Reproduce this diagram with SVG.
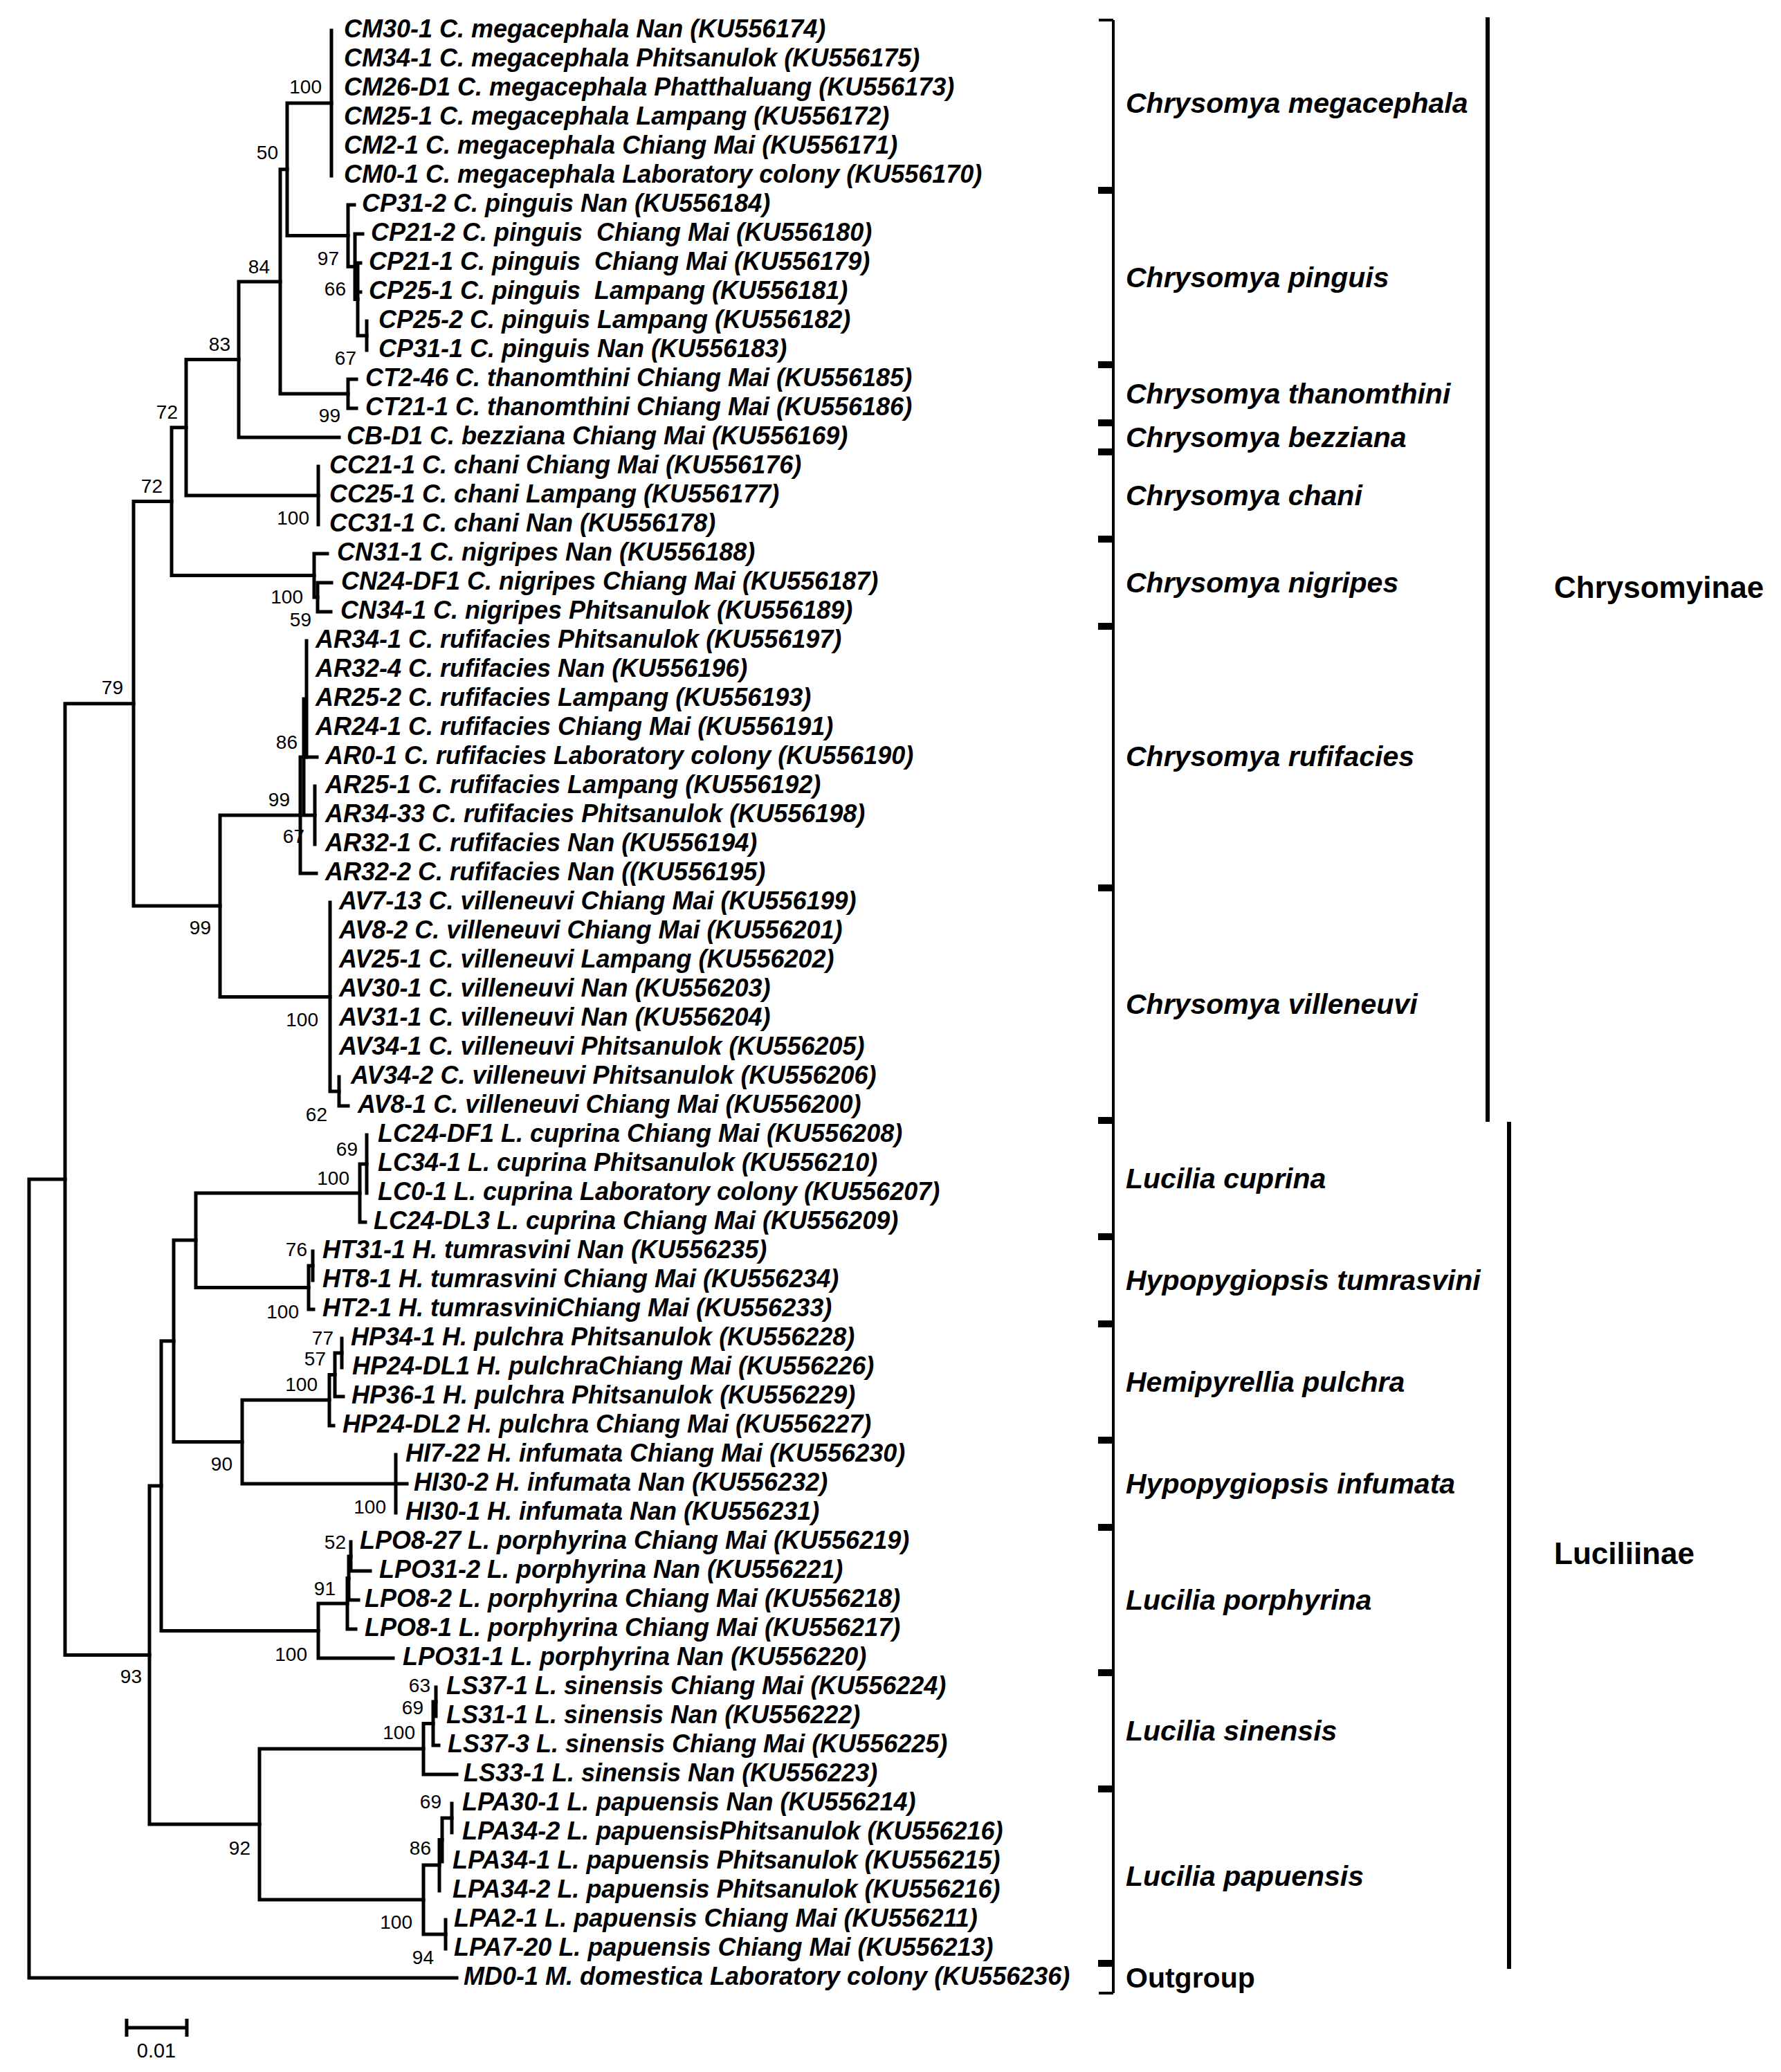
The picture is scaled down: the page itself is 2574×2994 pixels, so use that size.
<svg xmlns="http://www.w3.org/2000/svg" width="2574" height="2994" viewBox="0 0 2574 2994">
<style>
.br{fill:none;stroke:#000;stroke-width:5;stroke-linecap:square}
.lf{font-family:"Liberation Sans",Arial,sans-serif;font-size:36px;font-weight:bold;font-style:italic;fill:#000;white-space:pre}
.bs{font-family:"Liberation Sans",Arial,sans-serif;font-size:28px;fill:#000;text-anchor:end}
.sp{font-family:"Liberation Sans",Arial,sans-serif;font-size:41px;font-weight:bold;font-style:italic;fill:#000}
.sf{font-family:"Liberation Sans",Arial,sans-serif;font-size:44px;font-weight:bold;fill:#000}
.og{font-family:"Liberation Sans",Arial,sans-serif;font-size:41px;font-weight:bold;fill:#000}
.sc{font-family:"Liberation Sans",Arial,sans-serif;font-size:29px;fill:#000;text-anchor:middle}
.bk{fill:none;stroke:#000;stroke-width:4}
.tk{fill:#000}
</style>
<rect width="2574" height="2994" fill="#fff"/>
<g id="connectors" class="br">
<path d="M42 1704V2858M42 1704H94M42 2858H660"/>
<path d="M94 1016.8V2391.5M94 1016.8H193M94 2391.5H216"/>
<path d="M193 724.6V1309M193 724.6H248M193 1309H318"/>
<path d="M248 617.7V831.5M248 617.7H269M248 831.5H454"/>
<path d="M269 519.5V716M269 519.5H345M269 716H460"/>
<path d="M345 406.9V632M345 406.9H405M345 632H490"/>
<path d="M405 244.8V569M405 244.8H415M405 569H503"/>
<path d="M415 149V340.6M415 149H479M415 340.6H503"/>
<path d="M479 44V254"/>
<path d="M503 296V385.25M503 296H512M503 385.25H513"/>
<path d="M513 338V432.5M513 338H524M513 432.5H517"/>
<path d="M517 380V485M517 380H521M517 422H521M517 485H530"/>
<path d="M530 464V506"/>
<path d="M503 548V590M503 548H515M503 590H515"/>
<path d="M460 674V758"/>
<path d="M454 800V863M454 800H473M454 863H459"/>
<path d="M459 842V884M459 842H479M459 884H478"/>
<path d="M318 1178V1440.5M318 1178H434M318 1440.5H477"/>
<path d="M434 1094V1262M434 1094H458M434 1262H457"/>
<path d="M439 1010V1178M439 1178H455"/>
<path d="M443 926V1094"/>
<path d="M455 1136V1220"/>
<path d="M477 1304V1577M477 1577H490"/>
<path d="M490 1556V1598M490 1598H503"/>
<path d="M216 2147V2636M216 2147H233M216 2636H375"/>
<path d="M233 1937.8V2356.6M233 1937.8H251M233 2356.6H460"/>
<path d="M251 1792V2083.5M251 1792H283M251 2083.5H350"/>
<path d="M283 1724V1860.5M283 1724H520M283 1860.5H446"/>
<path d="M520 1682V1766M520 1682H530M520 1766H528"/>
<path d="M530 1640V1724"/>
<path d="M446 1829V1892M446 1829H452M446 1892H453"/>
<path d="M452 1808V1850"/>
<path d="M350 2023V2144M350 2023H476M350 2144H572"/>
<path d="M476 1986.5V2060M476 1986.5H484M476 2060H482"/>
<path d="M484 1955V2018M484 1955H494M484 2018H496"/>
<path d="M494 1934V1976"/>
<path d="M572 2102V2186M572 2144H588"/>
<path d="M460 2317V2396M460 2317H502M460 2396H568"/>
<path d="M502 2280.5V2354M502 2280.5H504M502 2354H514"/>
<path d="M504 2249V2312M504 2249H507M504 2312H518"/>
<path d="M507 2228V2270M507 2270H535"/>
<path d="M375 2527V2745M375 2527H612M375 2745H612"/>
<path d="M612 2490.5V2564M612 2490.5H626M612 2564H660"/>
<path d="M626 2459V2522M626 2459H630M626 2522H634"/>
<path d="M630 2438V2480"/>
<path d="M612 2695V2795M612 2695H635M612 2795H644"/>
<path d="M635 2658.5V2732M635 2658.5H639"/>
<path d="M639 2627V2690M639 2627H653"/>
<path d="M653 2606V2648"/>
<path d="M644 2774V2816"/>
</g>
<g id="bootstrap">
<text class="bs" x="465" y="135">100</text>
<text class="bs" x="402" y="230">50</text>
<text class="bs" x="390" y="395">84</text>
<text class="bs" x="490" y="383">97</text>
<text class="bs" x="500" y="427">66</text>
<text class="bs" x="515" y="527">67</text>
<text class="bs" x="333" y="507">83</text>
<text class="bs" x="492" y="610">99</text>
<text class="bs" x="257" y="605">72</text>
<text class="bs" x="447" y="758">100</text>
<text class="bs" x="235" y="712">72</text>
<text class="bs" x="438" y="872">100</text>
<text class="bs" x="450" y="905">59</text>
<text class="bs" x="178" y="1003">79</text>
<text class="bs" x="430" y="1082">86</text>
<text class="bs" x="419" y="1165">99</text>
<text class="bs" x="440" y="1218">67</text>
<text class="bs" x="305" y="1350">99</text>
<text class="bs" x="460" y="1483">100</text>
<text class="bs" x="473" y="1620">62</text>
<text class="bs" x="517" y="1670">69</text>
<text class="bs" x="505" y="1712">100</text>
<text class="bs" x="444" y="1815">76</text>
<text class="bs" x="432" y="1905">100</text>
<text class="bs" x="482" y="1943">77</text>
<text class="bs" x="471" y="1973">57</text>
<text class="bs" x="459" y="2010">100</text>
<text class="bs" x="336" y="2125">90</text>
<text class="bs" x="558" y="2187">100</text>
<text class="bs" x="500" y="2238">52</text>
<text class="bs" x="485" y="2305">91</text>
<text class="bs" x="444" y="2400">100</text>
<text class="bs" x="205" y="2432">93</text>
<text class="bs" x="622" y="2445">63</text>
<text class="bs" x="612" y="2477">69</text>
<text class="bs" x="600" y="2513">100</text>
<text class="bs" x="638" y="2613">69</text>
<text class="bs" x="623" y="2680">86</text>
<text class="bs" x="362" y="2680">92</text>
<text class="bs" x="596" y="2787">100</text>
<text class="bs" x="627" y="2838">94</text>
</g>
<g id="leaves">
<g id="leaf-CM30-1"><text class="lf" x="497" y="54">CM30-1 C. megacephala Nan (KU556174)</text></g>
<g id="leaf-CM34-1"><text class="lf" x="497" y="96">CM34-1 C. megacephala Phitsanulok (KU556175)</text></g>
<g id="leaf-CM26-D1"><text class="lf" x="497" y="138">CM26-D1 C. megacephala Phatthaluang (KU556173)</text></g>
<g id="leaf-CM25-1"><text class="lf" x="497" y="180">CM25-1 C. megacephala Lampang (KU556172)</text></g>
<g id="leaf-CM2-1"><text class="lf" x="497" y="222">CM2-1 C. megacephala Chiang Mai (KU556171)</text></g>
<g id="leaf-CM0-1"><text class="lf" x="497" y="264">CM0-1 C. megacephala Laboratory colony (KU556170)</text></g>
<g id="leaf-CP31-2"><text class="lf" x="523" y="306">CP31-2 C. pinguis Nan (KU556184)</text></g>
<g id="leaf-CP21-2"><text class="lf" x="536" y="348">CP21-2 C. pinguis  Chiang Mai (KU556180)</text></g>
<g id="leaf-CP21-1"><text class="lf" x="533" y="390">CP21-1 C. pinguis  Chiang Mai (KU556179)</text></g>
<g id="leaf-CP25-1"><text class="lf" x="533" y="432">CP25-1 C. pinguis  Lampang (KU556181)</text></g>
<g id="leaf-CP25-2"><text class="lf" x="547" y="474">CP25-2 C. pinguis Lampang (KU556182)</text></g>
<g id="leaf-CP31-1"><text class="lf" x="547" y="516">CP31-1 C. pinguis Nan (KU556183)</text></g>
<g id="leaf-CT2-46"><text class="lf" x="528" y="558">CT2-46 C. thanomthini Chiang Mai (KU556185)</text></g>
<g id="leaf-CT21-1"><text class="lf" x="528" y="600">CT21-1 C. thanomthini Chiang Mai (KU556186)</text></g>
<g id="leaf-CB-D1"><text class="lf" x="501" y="642">CB-D1 C. bezziana Chiang Mai (KU556169)</text></g>
<g id="leaf-CC21-1"><text class="lf" x="476" y="684">CC21-1 C. chani Chiang Mai (KU556176)</text></g>
<g id="leaf-CC25-1"><text class="lf" x="476" y="726">CC25-1 C. chani Lampang (KU556177)</text></g>
<g id="leaf-CC31-1"><text class="lf" x="476" y="768">CC31-1 C. chani Nan (KU556178)</text></g>
<g id="leaf-CN31-1"><text class="lf" x="487" y="810">CN31-1 C. nigripes Nan (KU556188)</text></g>
<g id="leaf-CN24-DF1"><text class="lf" x="493" y="852">CN24-DF1 C. nigripes Chiang Mai (KU556187)</text></g>
<g id="leaf-CN34-1"><text class="lf" x="492" y="894">CN34-1 C. nigripes Phitsanulok (KU556189)</text></g>
<g id="leaf-AR34-1"><text class="lf" x="456" y="936">AR34-1 C. rufifacies Phitsanulok (KU556197)</text></g>
<g id="leaf-AR32-4"><text class="lf" x="456" y="978">AR32-4 C. rufifacies Nan (KU556196)</text></g>
<g id="leaf-AR25-2"><text class="lf" x="456" y="1020">AR25-2 C. rufifacies Lampang (KU556193)</text></g>
<g id="leaf-AR24-1"><text class="lf" x="456" y="1062">AR24-1 C. rufifacies Chiang Mai (KU556191)</text></g>
<g id="leaf-AR0-1"><text class="lf" x="470" y="1104">AR0-1 C. rufifacies Laboratory colony (KU556190)</text></g>
<g id="leaf-AR25-1"><text class="lf" x="470" y="1146">AR25-1 C. rufifacies Lampang (KU556192)</text></g>
<g id="leaf-AR34-33"><text class="lf" x="470" y="1188">AR34-33 C. rufifacies Phitsanulok (KU556198)</text></g>
<g id="leaf-AR32-1"><text class="lf" x="470" y="1230">AR32-1 C. rufifacies Nan (KU556194)</text></g>
<g id="leaf-AR32-2"><text class="lf" x="470" y="1272">AR32-2 C. rufifacies Nan ((KU556195)</text></g>
<g id="leaf-AV7-13"><text class="lf" x="490" y="1314">AV7-13 C. villeneuvi Chiang Mai (KU556199)</text></g>
<g id="leaf-AV8-2"><text class="lf" x="490" y="1356">AV8-2 C. villeneuvi Chiang Mai (KU556201)</text></g>
<g id="leaf-AV25-1"><text class="lf" x="490" y="1398">AV25-1 C. villeneuvi Lampang (KU556202)</text></g>
<g id="leaf-AV30-1"><text class="lf" x="490" y="1440">AV30-1 C. villeneuvi Nan (KU556203)</text></g>
<g id="leaf-AV31-1"><text class="lf" x="490" y="1482">AV31-1 C. villeneuvi Nan (KU556204)</text></g>
<g id="leaf-AV34-1"><text class="lf" x="490" y="1524">AV34-1 C. villeneuvi Phitsanulok (KU556205)</text></g>
<g id="leaf-AV34-2"><text class="lf" x="507" y="1566">AV34-2 C. villeneuvi Phitsanulok (KU556206)</text></g>
<g id="leaf-AV8-1"><text class="lf" x="517" y="1608">AV8-1 C. villeneuvi Chiang Mai (KU556200)</text></g>
<g id="leaf-LC24-DF1"><text class="lf" x="546" y="1650">LC24-DF1 L. cuprina Chiang Mai (KU556208)</text></g>
<g id="leaf-LC34-1"><text class="lf" x="546" y="1692">LC34-1 L. cuprina Phitsanulok (KU556210)</text></g>
<g id="leaf-LC0-1"><text class="lf" x="546" y="1734">LC0-1 L. cuprina Laboratory colony (KU556207)</text></g>
<g id="leaf-LC24-DL3"><text class="lf" x="540" y="1776">LC24-DL3 L. cuprina Chiang Mai (KU556209)</text></g>
<g id="leaf-HT31-1"><text class="lf" x="466" y="1818">HT31-1 H. tumrasvini Nan (KU556235)</text></g>
<g id="leaf-HT8-1"><text class="lf" x="466" y="1860">HT8-1 H. tumrasvini Chiang Mai (KU556234)</text></g>
<g id="leaf-HT2-1"><text class="lf" x="466" y="1902">HT2-1 H. tumrasviniChiang Mai (KU556233)</text></g>
<g id="leaf-HP34-1"><text class="lf" x="507" y="1944">HP34-1 H. pulchra Phitsanulok (KU556228)</text></g>
<g id="leaf-HP24-DL1"><text class="lf" x="509" y="1986">HP24-DL1 H. pulchraChiang Mai (KU556226)</text></g>
<g id="leaf-HP36-1"><text class="lf" x="508" y="2028">HP36-1 H. pulchra Phitsanulok (KU556229)</text></g>
<g id="leaf-HP24-DL2"><text class="lf" x="495" y="2070">HP24-DL2 H. pulchra Chiang Mai (KU556227)</text></g>
<g id="leaf-HI7-22"><text class="lf" x="586" y="2112">HI7-22 H. infumata Chiang Mai (KU556230)</text></g>
<g id="leaf-HI30-2"><text class="lf" x="598" y="2154">HI30-2 H. infumata Nan (KU556232)</text></g>
<g id="leaf-HI30-1"><text class="lf" x="586" y="2196">HI30-1 H. infumata Nan (KU556231)</text></g>
<g id="leaf-LPO8-27"><text class="lf" x="520" y="2238">LPO8-27 L. porphyrina Chiang Mai (KU556219)</text></g>
<g id="leaf-LPO31-2"><text class="lf" x="548" y="2280">LPO31-2 L. porphyrina Nan (KU556221)</text></g>
<g id="leaf-LPO8-2"><text class="lf" x="527" y="2322">LPO8-2 L. porphyrina Chiang Mai (KU556218)</text></g>
<g id="leaf-LPO8-1"><text class="lf" x="527" y="2364">LPO8-1 L. porphyrina Chiang Mai (KU556217)</text></g>
<g id="leaf-LPO31-1"><text class="lf" x="582" y="2406">LPO31-1 L. porphyrina Nan (KU556220)</text></g>
<g id="leaf-LS37-1"><text class="lf" x="645" y="2448">LS37-1 L. sinensis Chiang Mai (KU556224)</text></g>
<g id="leaf-LS31-1"><text class="lf" x="645" y="2490">LS31-1 L. sinensis Nan (KU556222)</text></g>
<g id="leaf-LS37-3"><text class="lf" x="647" y="2532">LS37-3 L. sinensis Chiang Mai (KU556225)</text></g>
<g id="leaf-LS33-1"><text class="lf" x="670" y="2574">LS33-1 L. sinensis Nan (KU556223)</text></g>
<g id="leaf-LPA30-1"><text class="lf" x="668" y="2616">LPA30-1 L. papuensis Nan (KU556214)</text></g>
<g id="leaf-LPA34-2a"><text class="lf" x="668" y="2658">LPA34-2 L. papuensisPhitsanulok (KU556216)</text></g>
<g id="leaf-LPA34-1"><text class="lf" x="654" y="2700">LPA34-1 L. papuensis Phitsanulok (KU556215)</text></g>
<g id="leaf-LPA34-2b"><text class="lf" x="654" y="2742">LPA34-2 L. papuensis Phitsanulok (KU556216)</text></g>
<g id="leaf-LPA2-1"><text class="lf" x="656" y="2784">LPA2-1 L. papuensis Chiang Mai (KU556211)</text></g>
<g id="leaf-LPA7-20"><text class="lf" x="656" y="2826">LPA7-20 L. papuensis Chiang Mai (KU556213)</text></g>
<g id="leaf-MD0-1"><text class="lf" x="670" y="2868">MD0-1 M. domestica Laboratory colony (KU556236)</text></g>
</g>
<g id="brackets">
<path class="bk" d="M1609 29V2880"/>
<path class="bk" d="M1588 29H1609M1588 2880H1609" stroke-width="5"/>
<g class="tk">
<rect x="1587" y="270" width="24" height="10"/>
<rect x="1587" y="522" width="24" height="10"/>
<rect x="1587" y="606" width="24" height="10"/>
<rect x="1587" y="648" width="24" height="10"/>
<rect x="1587" y="774" width="24" height="10"/>
<rect x="1587" y="900" width="24" height="10"/>
<rect x="1587" y="1278" width="24" height="10"/>
<rect x="1587" y="1614" width="24" height="10"/>
<rect x="1587" y="1782" width="24" height="10"/>
<rect x="1587" y="1908" width="24" height="10"/>
<rect x="1587" y="2076" width="24" height="10"/>
<rect x="1587" y="2202" width="24" height="10"/>
<rect x="1587" y="2412" width="24" height="10"/>
<rect x="1587" y="2580" width="24" height="10"/>
<rect x="1587" y="2832" width="24" height="10"/>
</g>
</g>
<g id="species">
<g id="sp-megacephala"><text class="sp" x="1627" y="163">Chrysomya megacephala</text></g>
<g id="sp-pinguis"><text class="sp" x="1627" y="415">Chrysomya pinguis</text></g>
<g id="sp-thanomthini"><text class="sp" x="1627" y="583">Chrysomya thanomthini</text></g>
<g id="sp-bezziana"><text class="sp" x="1627" y="646">Chrysomya bezziana</text></g>
<g id="sp-chani"><text class="sp" x="1627" y="730">Chrysomya chani</text></g>
<g id="sp-nigripes"><text class="sp" x="1627" y="856">Chrysomya nigripes</text></g>
<g id="sp-rufifacies"><text class="sp" x="1627" y="1107">Chrysomya rufifacies</text></g>
<g id="sp-villeneuvi"><text class="sp" x="1627" y="1465">Chrysomya villeneuvi</text></g>
<g id="sp-cuprina"><text class="sp" x="1627" y="1717">Lucilia cuprina</text></g>
<g id="sp-tumrasvini"><text class="sp" x="1627" y="1864">Hypopygiopsis tumrasvini</text></g>
<g id="sp-pulchra"><text class="sp" x="1627" y="2011">Hemipyrellia pulchra</text></g>
<g id="sp-infumata"><text class="sp" x="1627" y="2158">Hypopygiopsis infumata</text></g>
<g id="sp-porphyrina"><text class="sp" x="1627" y="2326">Lucilia porphyrina</text></g>
<g id="sp-sinensis"><text class="sp" x="1627" y="2515">Lucilia sinensis</text></g>
<g id="sp-papuensis"><text class="sp" x="1627" y="2725">Lucilia papuensis</text></g>
<g id="sp-outgroup"><text class="og" x="1627" y="2872">Outgroup</text></g>
</g>
<g id="subfamilies">
<path d="M2150 25V1621" stroke="#000" stroke-width="6"/>
<path d="M2181 1621V2845" stroke="#000" stroke-width="6"/>
<g id="sf-chrysomyinae"><text class="sf" x="2246" y="864">Chrysomyinae</text></g>
<g id="sf-luciliinae"><text class="sf" x="2246" y="2260">Luciliinae</text></g>
</g>
<g id="scalebar">
<path d="M183 2930H270M183 2917V2943M270 2917V2943" stroke="#000" stroke-width="5" fill="none"/>
<text class="sc" x="226" y="2973">0.01</text>
</g>
</svg>
